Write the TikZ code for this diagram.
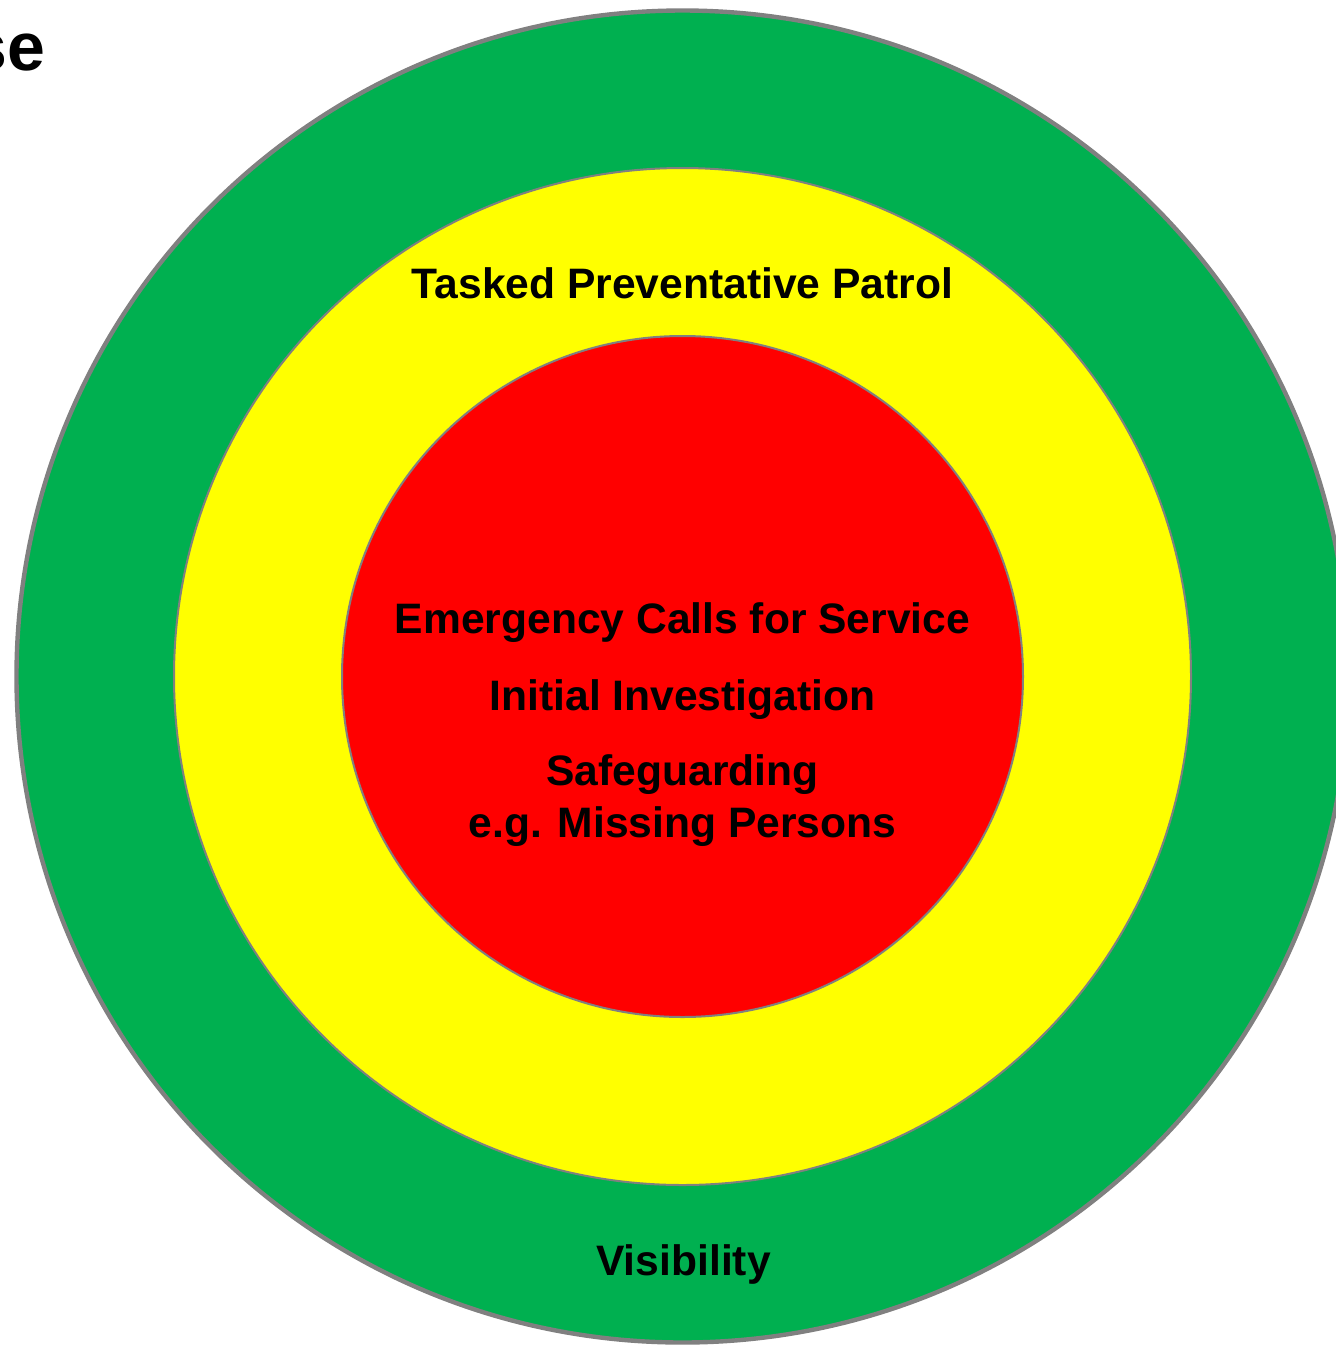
\documentclass[tikz,border=0pt]{standalone}
\usepackage{fontspec}
\setmainfont{Liberation Sans}
\definecolor{ringgreen}{HTML}{00B050}
\definecolor{ringyellow}{HTML}{FFFF00}
\definecolor{ringred}{HTML}{FF0000}
\definecolor{ringedge}{HTML}{808080}
\begin{document}
\begin{tikzpicture}[x=0.5pt,y=-0.5pt,
    ring/.style={draw=ringedge,line width=1pt},
    main label/.style={anchor=base,font=\bfseries\fontsize{21.3}{25.5}\selectfont,align=center}]
    \useasboundingbox (0,0) rectangle (1336,1345);
    \begin{scope}
    \clip (0,0) rectangle (1336,1345);
    \coordinate (c) at (682.5,676.5);
    \fill[ringgreen] (c) circle[radius=666];
    \draw[ring,line width=2.2pt] (c) circle[radius=666];
    \draw[ring,fill=ringyellow] (c) circle[radius=508.5];
    \draw[ring,fill=ringred] (c) circle[radius=340.5];
    \end{scope}

    \node[anchor=base east,font=\bfseries\fontsize{34}{40}\selectfont,inner sep=0pt] (title) at (46,70) {se};

    \node[main label] (patrol) at (682.5,298) {Tasked Preventative Patrol};
    \node[main label] (calls) at (682.5,633) {Emergency Calls for Service};
    \node[main label] (invest) at (682.5,710) {Initial Investigation};
    \node[main label] (safe) at (682.5,785) {Safeguarding};
    \node[main label] (missing) at (682.5,837) {e.g. Missing Persons};
    \node[main label] (visible) at (683.5,1275) {Visibility};
\end{tikzpicture}
\end{document}
